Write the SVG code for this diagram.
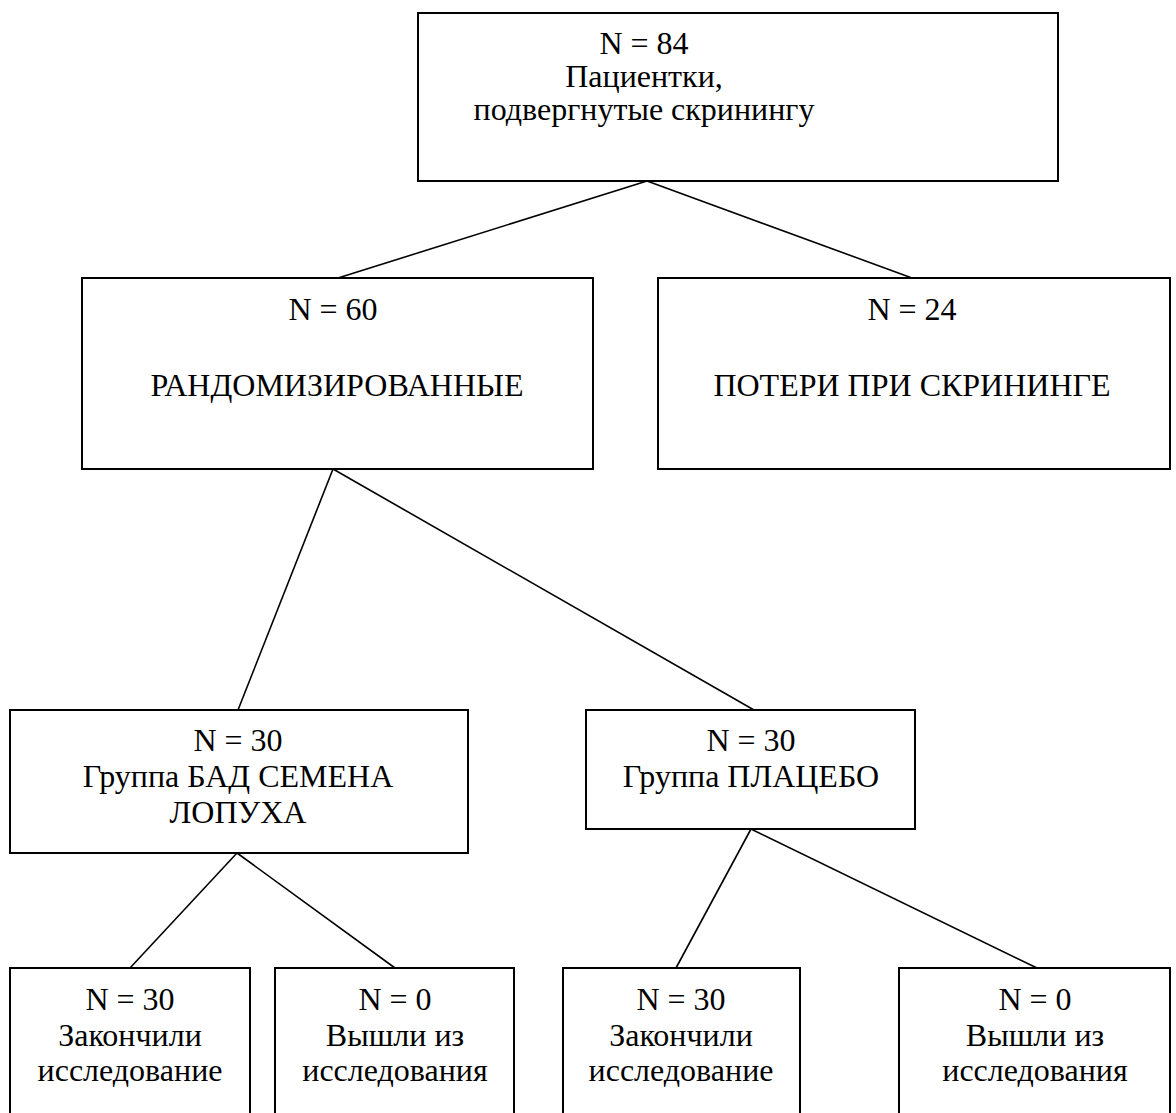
<svg xmlns="http://www.w3.org/2000/svg" width="1176" height="1113" viewBox="0 0 1176 1113">
<style>
.box{fill:#fff;stroke:#000;stroke-width:2}
.t{font-family:"Liberation Serif","Times New Roman","DejaVu Serif",serif;font-size:32px;fill:#000;text-anchor:middle}
.c{stroke:#000;stroke-width:1.6;fill:none}
</style>
<rect width="1176" height="1113" fill="#fff"/>
<g id="connectors">
<line class="c" x1="647" y1="181" x2="338" y2="278"/>
<line class="c" x1="647" y1="181" x2="912" y2="278"/>
<line class="c" x1="333" y1="469" x2="238" y2="710"/>
<line class="c" x1="333" y1="469" x2="754" y2="710"/>
<line class="c" x1="237" y1="853" x2="130" y2="968"/>
<line class="c" x1="237" y1="853" x2="395" y2="968"/>
<line class="c" x1="751" y1="829" x2="676" y2="968"/>
<line class="c" x1="751" y1="829" x2="1037" y2="968"/>
</g>
<g id="screened">
<rect class="box" x="418" y="13" width="640" height="168"/>
<text class="t" x="644" y="54">N = 84</text>
<text class="t" x="644" y="87">Пациентки,</text>
<text class="t" x="644" y="120">подвергнутые скринингу</text>
</g>
<g id="randomized">
<rect class="box" x="82" y="278" width="511" height="191"/>
<text class="t" x="333" y="320">N = 60</text>
<text class="t" x="337" y="396">РАНДОМИЗИРОВАННЫЕ</text>
</g>
<g id="screen-fail">
<rect class="box" x="658" y="278" width="512" height="191"/>
<text class="t" x="912" y="320">N = 24</text>
<text class="t" x="912" y="396">ПОТЕРИ ПРИ СКРИНИНГЕ</text>
</g>
<g id="group-burdock">
<rect class="box" x="10" y="710" width="458" height="143"/>
<text class="t" x="238" y="751">N = 30</text>
<text class="t" x="238" y="787">Группа БАД СЕМЕНА</text>
<text class="t" x="238" y="823">ЛОПУХА</text>
</g>
<g id="group-placebo">
<rect class="box" x="586" y="710" width="329" height="119"/>
<text class="t" x="751" y="751">N = 30</text>
<text class="t" x="751" y="787">Группа ПЛАЦЕБО</text>
</g>
<g id="burdock-completed">
<rect class="box" x="10" y="968" width="240" height="170"/>
<text class="t" x="130" y="1010">N = 30</text>
<text class="t" x="130" y="1046">Закончили</text>
<text class="t" x="130" y="1081">исследование</text>
</g>
<g id="burdock-dropped">
<rect class="box" x="275" y="968" width="239" height="170"/>
<text class="t" x="395" y="1010">N = 0</text>
<text class="t" x="395" y="1046">Вышли из</text>
<text class="t" x="395" y="1081">исследования</text>
</g>
<g id="placebo-completed">
<rect class="box" x="563" y="968" width="237" height="170"/>
<text class="t" x="681" y="1010">N = 30</text>
<text class="t" x="681" y="1046">Закончили</text>
<text class="t" x="681" y="1081">исследование</text>
</g>
<g id="placebo-dropped">
<rect class="box" x="899" y="968" width="271" height="170"/>
<text class="t" x="1035" y="1010">N = 0</text>
<text class="t" x="1035" y="1046">Вышли из</text>
<text class="t" x="1035" y="1081">исследования</text>
</g>
</svg>
